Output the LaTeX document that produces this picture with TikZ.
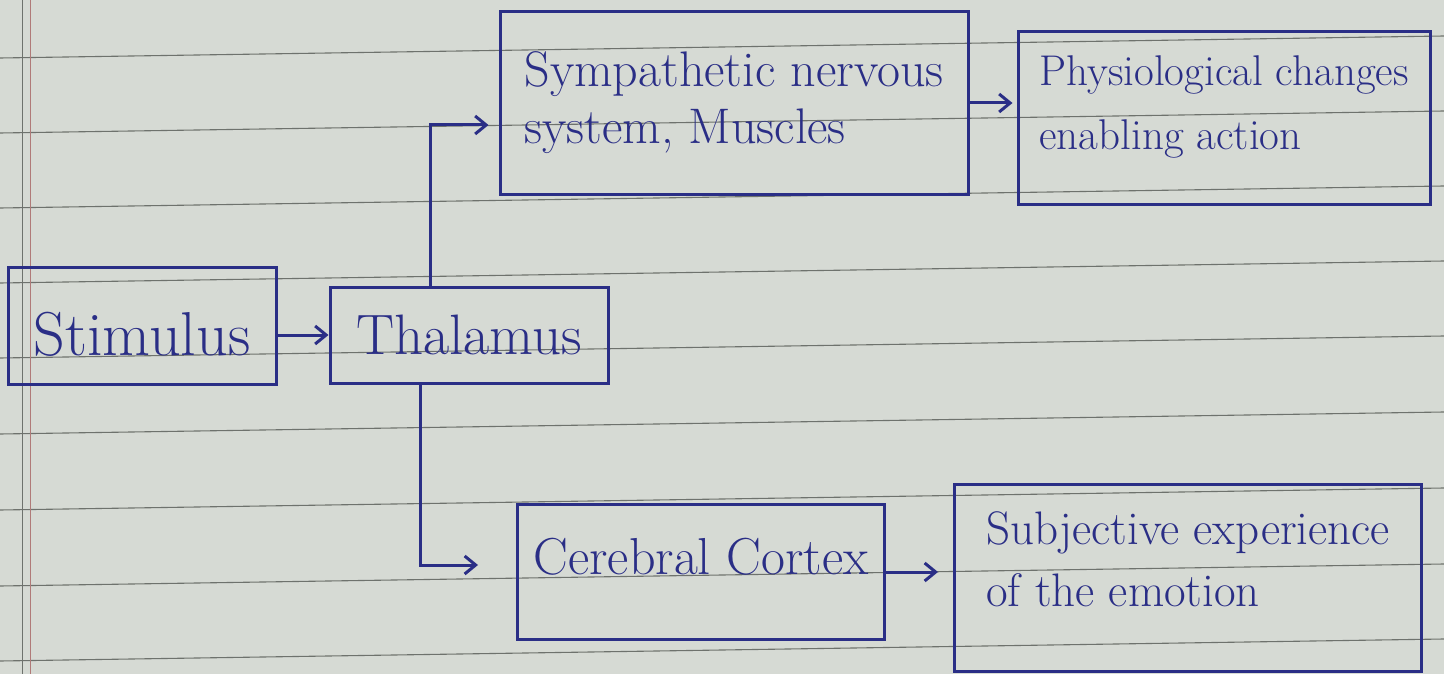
\documentclass[tikz,border=0pt]{standalone}
\usepackage{fontspec}
\usetikzlibrary{arrows.meta}
\definecolor{ink}{HTML}{2A2E86}
\definecolor{paper}{HTML}{D6DAD4}
\definecolor{rule}{HTML}{6E726D}
\definecolor{margin}{HTML}{B07A78}
\tikzset{
  box/.style={draw=ink, line width=3pt, text=ink, align=left, inner sep=4pt},
  hw/.style n args={2}{font=\fontsize{#1}{#2}\selectfont},
  arr/.style={draw=ink, line width=3pt, -{Straight Barb[length=11pt,width=18pt,line width=3pt]}},
}
\begin{document}
\begin{tikzpicture}[x=1pt,y=-1pt]
% paper
\fill[paper] (0,0) rectangle (1444,674);
\useasboundingbox (0,0) rectangle (1444,674);
\foreach \yy in {58,133,208,283,358,434,510,586,661}
  \draw[rule, line width=1.1pt] (0,\yy) -- (1444,\yy-22);
\draw[rule, line width=1pt] (22,0) -- (22,674);
\draw[margin, line width=1pt] (30,0) -- (30,674);
% boxes
\node[box, hw={62pt}{74pt}, minimum width=268pt, minimum height=117pt, text height=58pt, text depth=0pt] (stim) at (142,326) {Stimulus};
\node[box, hw={57pt}{68pt}, minimum width=278pt, minimum height=96pt] (thal) at (469,335) {Thalamus};
\node[box, hw={50pt}{57pt}, minimum width=468pt, minimum height=183pt] (symp) at (734,103) {Sympathetic nervous\\system, Muscles};
\node[box, hw={43pt}{64pt}, minimum width=412pt, minimum height=173pt, text depth=30pt] (phys) at (1224,118) {Physiological changes\\enabling action};
\node[box, hw={52pt}{60pt}, minimum width=367pt, minimum height=135pt, text depth=32pt] (cere) at (701,572) {Cerebral Cortex};
\node[box, hw={47pt}{62pt}, minimum width=467pt, minimum height=187pt, text depth=38pt] (subj) at (1188,578) {Subjective experience\\of the emotion};
% connectors
\draw[arr] (stim.east |- thal.west) -- (thal.west);
\draw[arr] ([xshift=-39pt]thal.north) |- ([xshift=-10pt,yshift=-22pt]symp.west);
\draw[arr] ([xshift=-49pt]thal.south) |- ([xshift=-38pt,yshift=7pt]cere.west);
\draw[arr] (symp.east) -- ([xshift=-4pt]symp.east -| phys.west);
\draw[arr] (cere.east) -- ([xshift=-15pt]cere.east -| subj.west);
\end{tikzpicture}
\end{document}
